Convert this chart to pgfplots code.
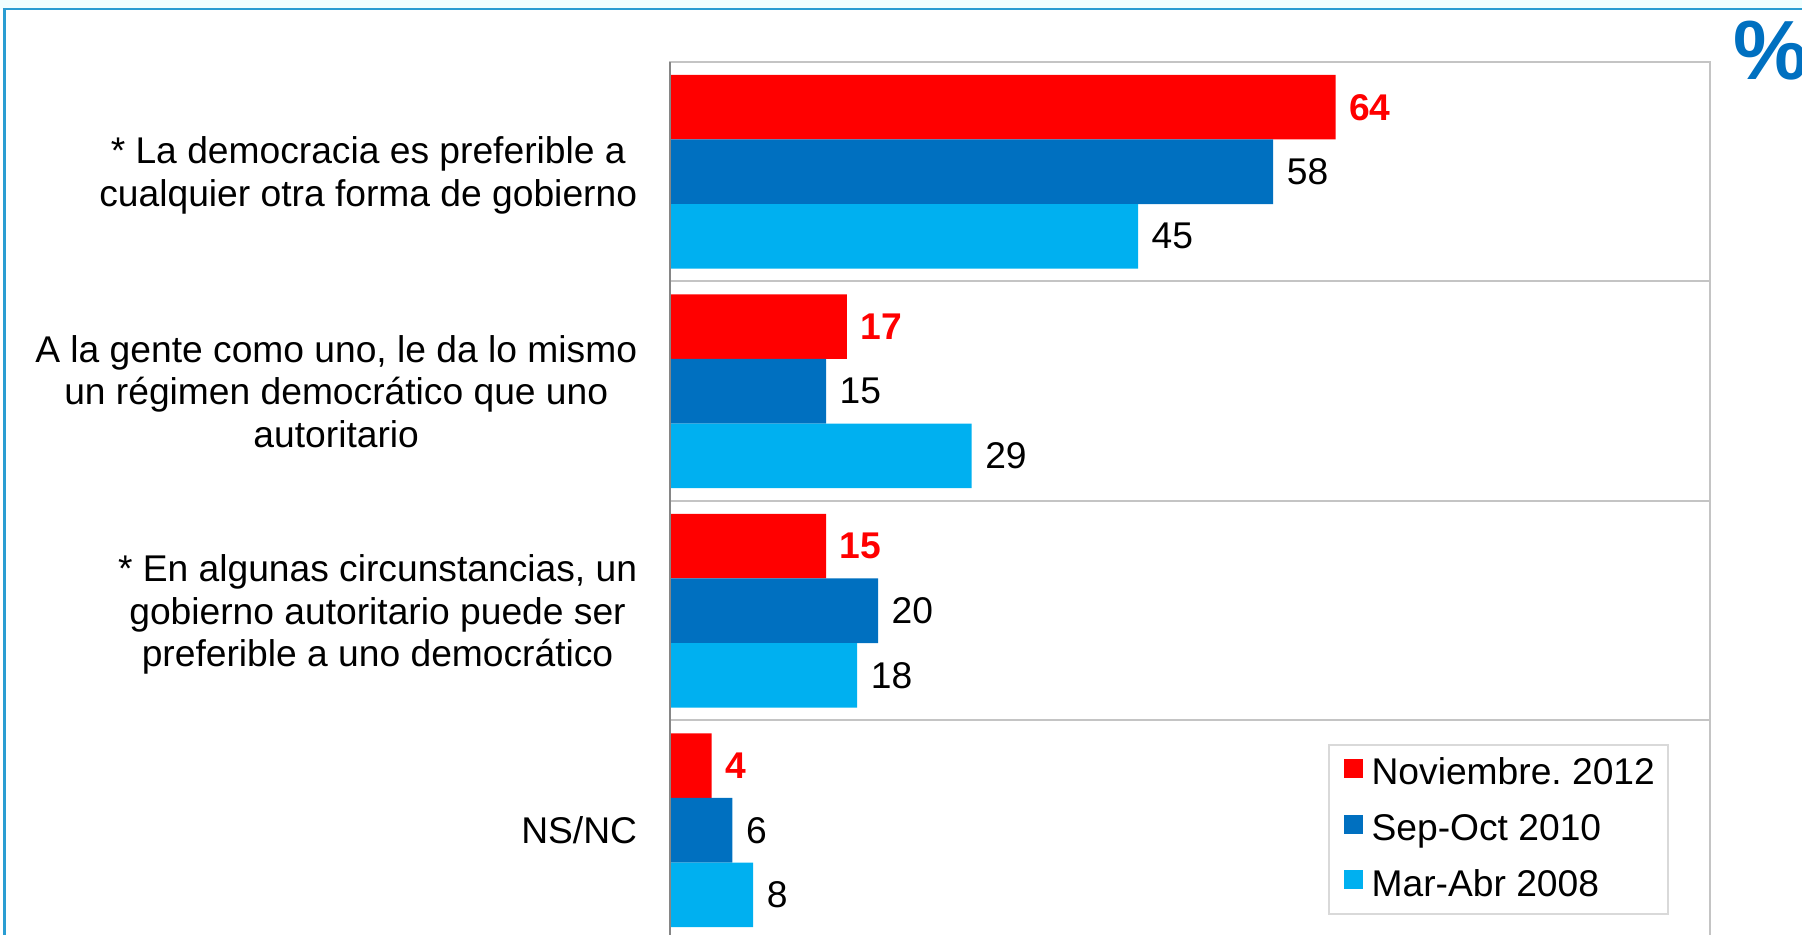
\documentclass[border=0pt]{standalone}
\usepackage{pgfplots}
\pgfplotsset{compat=1.18}
\usepackage{fontspec}
\setmainfont{Liberation Sans}
\definecolor{cRed}{HTML}{FF0000}
\definecolor{cDark}{HTML}{0070C0}
\definecolor{cLight}{HTML}{00B0F0}
\definecolor{cFrame}{HTML}{2A9DD2}
\definecolor{cStrip}{HTML}{F0FFFF}
\definecolor{cGrid}{HTML}{C4C4C4}
\definecolor{cAxis}{HTML}{868686}
\definecolor{cLeg}{HTML}{D9D9D9}
\newcommand{\lblfont}{\fontsize{18.6}{21.25}\selectfont}
\begin{document}
\begin{tikzpicture}
\fill[cStrip] (0pt,463pt) rectangle (901pt,468pt);
\draw[cFrame, line width=1.1pt] (2.2pt,-10pt) -- (2.2pt,463pt) -- (910pt,463pt);
\node[anchor=base west, inner sep=0pt, text=cDark, font=\fontsize{42}{42}\selectfont\bfseries] at (866.5pt,427.5pt) {\%};
\begin{axis}[
  at={(335pt,-2.5pt)}, anchor=south west,
  scale only axis, width=520pt, height=439pt,
  xmin=0, xmax=100, ymin=0, ymax=4,
  xtick=\empty,
  ytick={0.5,1.5,2.5,3.5},
  yticklabels={{NS/NC},{* En algunas circunstancias, un\\gobierno autoritario puede ser\\preferible a uno democrático},{A la gente como uno, le da lo mismo\\un régimen democrático que uno\\autoritario},{* La democracia es preferible a\\cualquier otra forma de gobierno}},
  yticklabel style={align=center, font=\lblfont, inner sep=0pt, text depth=0pt, anchor=east, xshift=-12pt},
  ytick style={draw=none},
  extra y ticks={0,1,2,3,4},
  extra y tick labels={},
  extra y tick style={ymajorgrids=true, major grid style={cGrid, line width=1pt}, tick style={draw=cAxis, line width=1pt}, tick align=outside, major tick length=5.5pt},
  ytick pos=left,
  axis line style={draw=cGrid, line width=1pt},
  xbar, bar width=0.294,
  clip=false,
  /pgf/number format/assume math mode=true,
  nodes near coords,
  every node near coord/.append style={font=\lblfont, text=black, xshift=3.3pt},
  legend style={at={(0.9605,0.2232)}, anchor=north east, draw=cLeg, line width=1pt, inner xsep=2pt, inner ysep=0.5pt, row sep=0.16pt, column sep=0pt, font=\lblfont,
    nodes={inner xsep=4.5pt, inner ysep=0pt, text height=19.4pt, text depth=8.34pt}},
  legend cell align=left,
  legend image code/.code={\path[fill=none, draw=none] (0pt,-2pt) rectangle (15pt,7.5pt); \fill[#1, draw=none] (5.5pt,-2pt) rectangle (15pt,7.5pt);},
]
\addplot[fill=cRed, draw=none, bar shift=0.294, every node near coord/.append style={text=cRed, font=\lblfont\bfseries}] coordinates {(4,0.5) (15,1.5) (17,2.5) (64,3.5)};
\addlegendentry{Noviembre.\ 2012}
\addplot[fill=cDark, draw=none, bar shift=0] coordinates {(6,0.5) (20,1.5) (15,2.5) (58,3.5)};
\addlegendentry{Sep-Oct 2010}
\addplot[fill=cLight, draw=none, bar shift=-0.294] coordinates {(8,0.5) (18,1.5) (29,2.5) (45,3.5)};
\addlegendentry{Mar-Abr 2008}
\draw[cAxis, line width=1pt] (rel axis cs:0,0) -- (rel axis cs:0,1);
\end{axis}
\pgfresetboundingbox
\useasboundingbox (0pt,0pt) rectangle (901pt,467.5pt);
\end{tikzpicture}
\end{document}
